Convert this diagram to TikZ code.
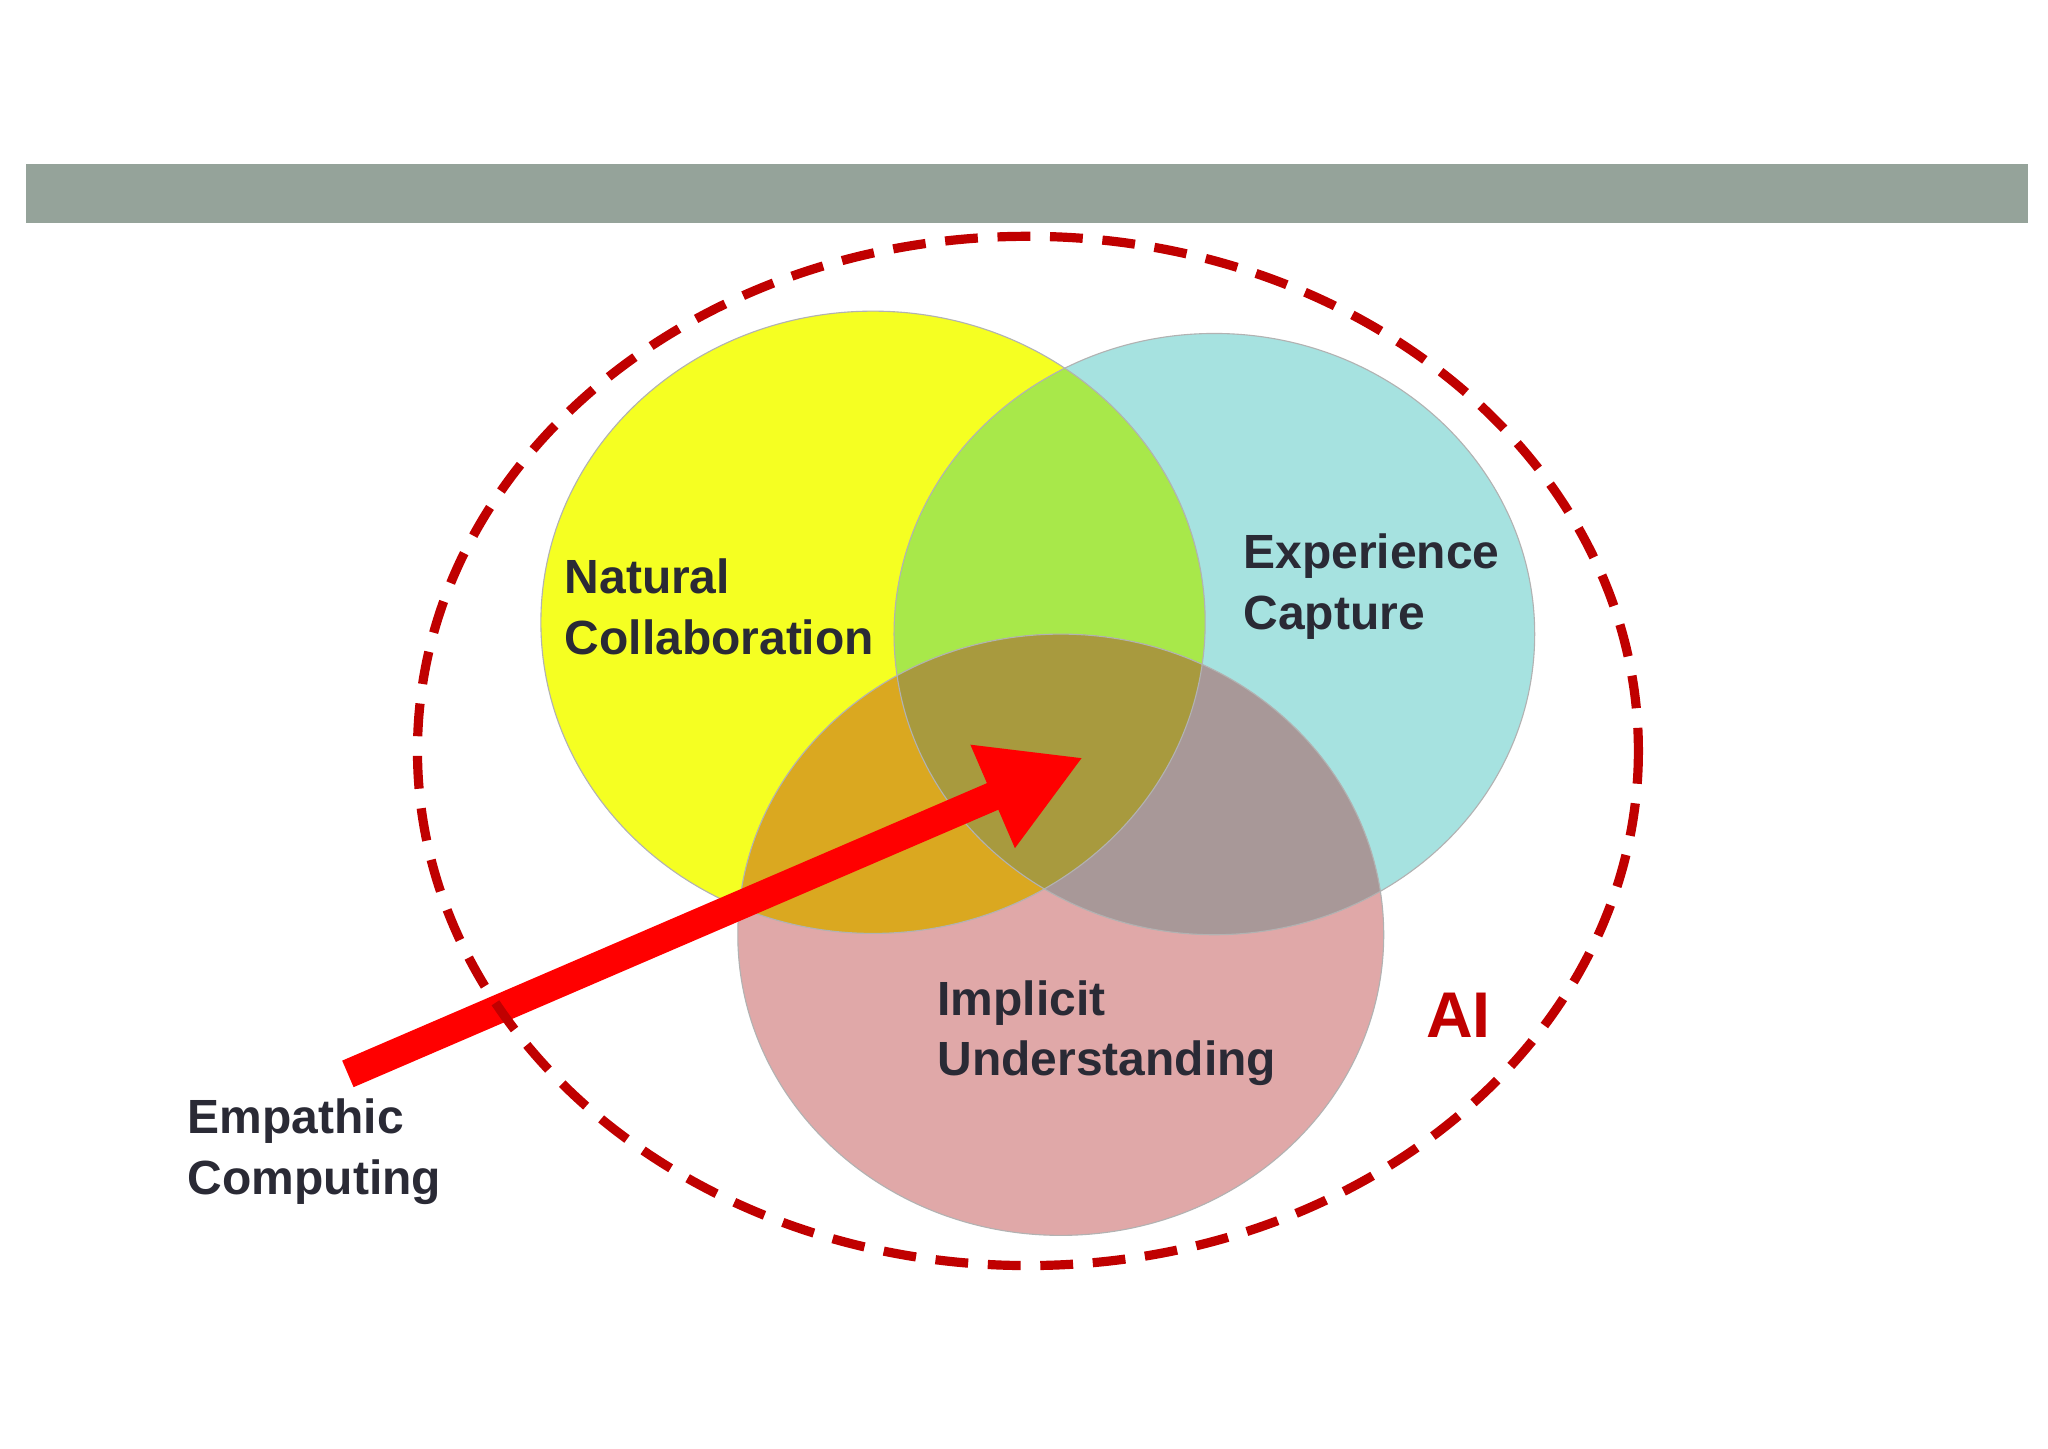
\documentclass[tikz,border=0pt]{standalone}
\usepackage{fontspec}
\setmainfont{Liberation Sans}
\usetikzlibrary{arrows.meta}
\definecolor{barc}{HTML}{95A39A}
\definecolor{yelc}{HTML}{F5FF22}
\definecolor{cyac}{HTML}{A6E2E0}
\definecolor{pinkc}{HTML}{E0A8A8}
\definecolor{grnc}{HTML}{A8E84A}
\definecolor{orgc}{HTML}{DAA820}
\definecolor{mauvc}{HTML}{A89898}
\definecolor{olivc}{HTML}{A89A3E}
\definecolor{dredc}{HTML}{C00000}
\definecolor{txtc}{HTML}{2A2A35}
\tikzset{lbl/.style={font=\bfseries\fontsize{52}{66}\selectfont, text=txtc, align=left, anchor=west, inner sep=0pt},
 rim/.style={draw=black!30, line width=1.2pt}}
\begin{document}
\begin{tikzpicture}[x=0.05cm,y=-0.05cm]
\useasboundingbox (0,0) rectangle (1560,1103);
\fill[white] (0,0) rectangle (1560,1103);
\fill[barc] (20,125) rectangle (1545,170);
\def\Y{(665,474) ellipse [x radius=253, y radius=237]}
\def\C{(925,483) ellipse [x radius=244, y radius=229]}
\def\P{(808,712) ellipse [x radius=246, y radius=229]}
\fill[yelc] \Y; \fill[cyac] \C; \fill[pinkc] \P;
\begin{scope}\clip \Y; \fill[grnc] \C; \fill[orgc] \P; \end{scope}
\begin{scope}\clip \C; \fill[mauvc] \P; \end{scope}
\begin{scope}\clip \Y; \clip \C; \fill[olivc] \P; \end{scope}
\draw[rim] \Y; \draw[rim] \C; \draw[rim] \P;
\coordinate (as) at (265,818);
\coordinate (at) at (825,577);
\draw[red, line width=22*0.05cm, -{Triangle[length=75*0.05cm,width=80*0.05cm]}] (as) -- (at);
\draw[dredc, line width=7*0.05cm, dash pattern=on 25*0.05cm off 15*0.05cm] (783,572) ellipse [x radius=465, y radius=392];
\node[lbl] (nc) at (430,462) {Natural\\Collaboration};
\node[lbl] (ec) at (947,447) {Experience\\Capture};
\node[lbl] (iu) at (714,787) {Implicit\\Understanding};
\node[lbl] (em) at (143,877) {Empathic\\Computing};
\node[font=\bfseries\fontsize{70}{80}\selectfont, text=dredc, inner sep=0pt] (ai) at (1111,773) {AI};
\end{tikzpicture}
\end{document}
